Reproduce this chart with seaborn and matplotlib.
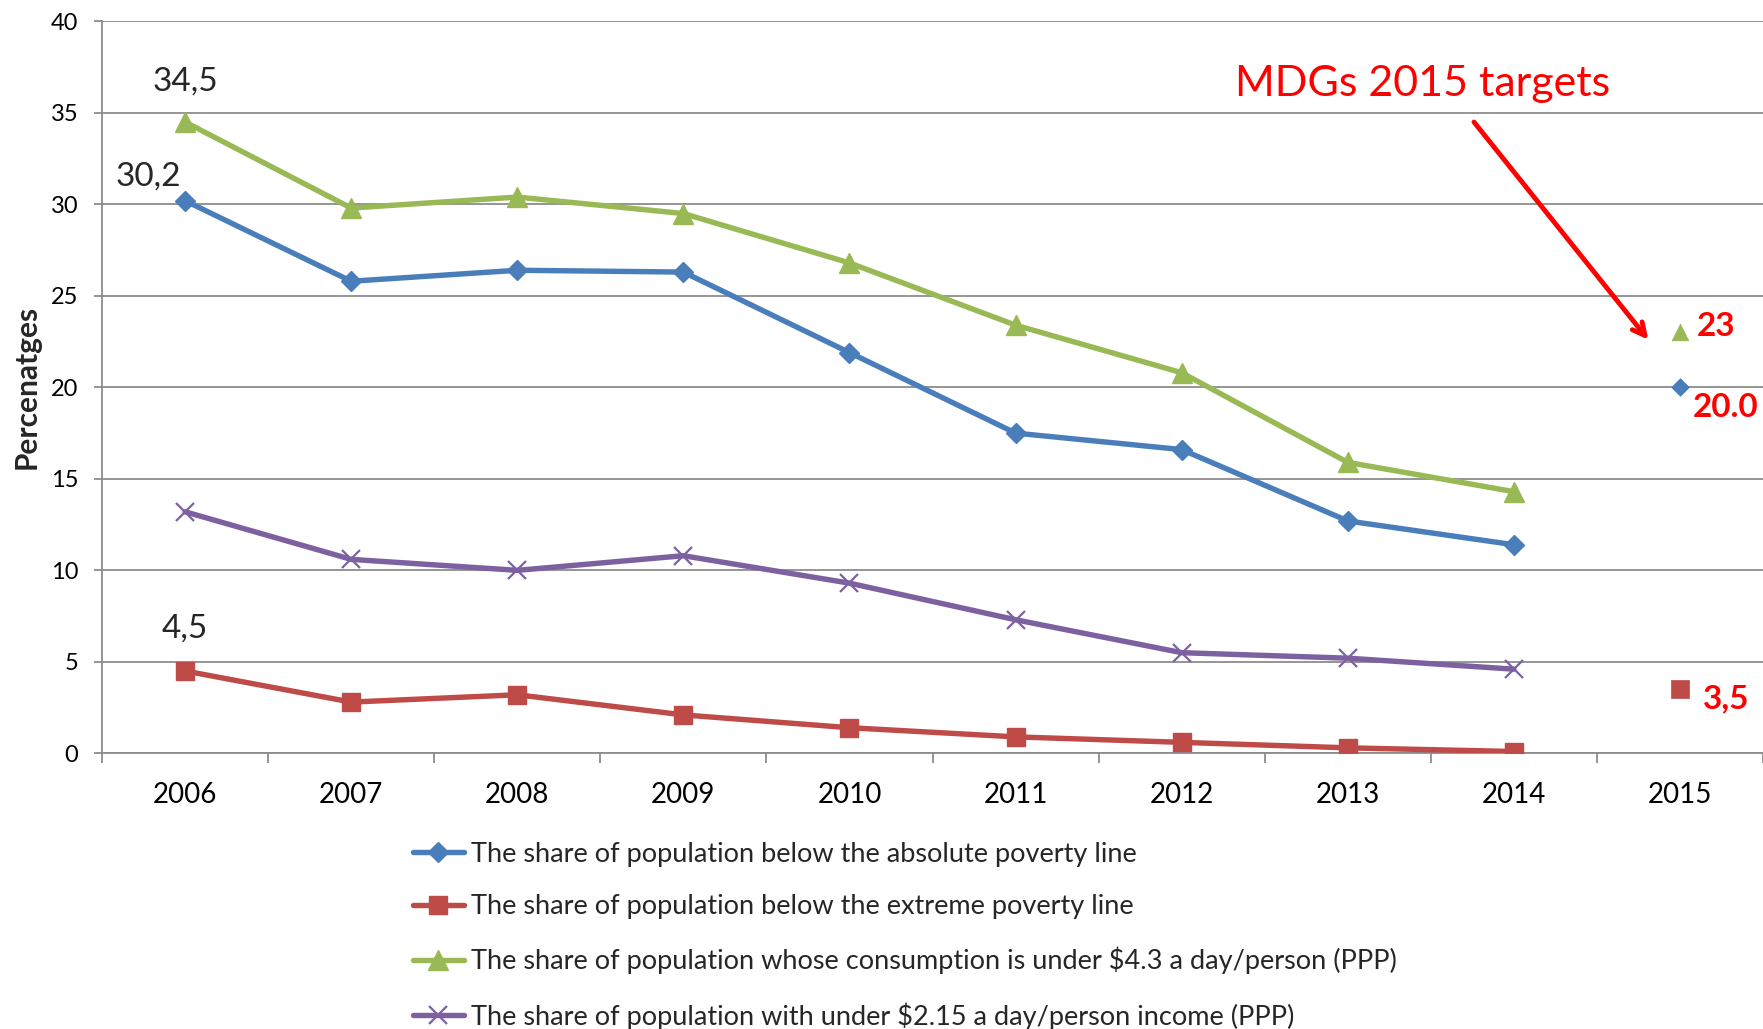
import matplotlib
matplotlib.use("Agg")
import matplotlib.pyplot as plt
import numpy as np
import pandas as pd
import seaborn as sns
from matplotlib.ticker import FixedLocator

# ---- data -------------------------------------------------------------
years = [2006, 2007, 2008, 2009, 2010, 2011, 2012, 2013, 2014]
absolute_poverty = [30.2, 25.8, 26.4, 26.3, 21.9, 17.5, 16.6, 12.7, 11.4]
extreme_poverty = [4.5, 2.8, 3.2, 2.1, 1.4, 0.9, 0.6, 0.3, 0.1]
consumption_under_4_3 = [34.5, 29.8, 30.4, 29.5, 26.8, 23.4, 20.8, 15.9, 14.3]
income_under_2_15 = [13.2, 10.6, 10.0, 10.8, 9.3, 7.3, 5.5, 5.2, 4.6]

target_year = 2015
target_absolute = 20.0
target_extreme = 3.5
target_consumption = 23

series_labels = [
    "The share of population below the absolute poverty line",
    "The share of population below the extreme poverty line",
    "The share of population whose consumption is under $4.3 a day/person (PPP)",
    "The share of population with under $2.15 a day/person income (PPP)",
]
year_ticks = [2006, 2007, 2008, 2009, 2010, 2011, 2012, 2013, 2014, 2015]
y_ticks = [0, 5, 10, 15, 20, 25, 30, 35, 40]

# ---- style ------------------------------------------------------------
sns.set_style("white")
plt.rcParams["font.family"] = ["Lato", "DejaVu Sans"]

BLUE = "#4A7EBB"
RED = "#BE4B48"
GREEN = "#98B954"
PURPLE = "#7D60A0"
GRID = "#8C8C8C"

fig = plt.figure(figsize=(17.63, 10.29), dpi=100)
ax = fig.add_axes([0.0579, 0.2679, 0.9421, 0.7113])

df = pd.DataFrame({
    "year": years,
    "absolute": absolute_poverty,
    "extreme": extreme_poverty,
    "consumption": consumption_under_4_3,
    "income": income_under_2_15,
})

specs = [
    ("absolute", series_labels[0], BLUE, "D", 10, 1.0),
    ("extreme", series_labels[1], RED, "s", 13, 1.0),
    ("consumption", series_labels[2], GREEN, "^", 15, 1.0),
    ("income", series_labels[3], PURPLE, "x", 13, 1.6),
]
for col, label, color, marker, ms, mew in specs:
    sns.lineplot(data=df, x="year", y=col, ax=ax, color=color, lw=3.9,
                 marker=marker, markersize=ms, markeredgecolor=color,
                 markeredgewidth=mew, label=label, zorder=3)

# 2015 target points
targets = pd.DataFrame({
    "year": [target_year] * 3,
    "value": [target_consumption, target_absolute, target_extreme],
    "kind": ["consumption", "absolute", "extreme"],
})
for kind, color, marker, size in [("consumption", GREEN, "^", 12),
                                  ("absolute", BLUE, "D", 9),
                                  ("extreme", RED, "s", 13)]:
    sub = targets[targets["kind"] == kind]
    sns.scatterplot(data=sub, x="year", y="value", ax=ax, color=color,
                    marker=marker, s=size ** 2, edgecolor=color,
                    linewidth=0.5, legend=False, zorder=3)

# ---- axes -------------------------------------------------------------
ax.set_xlim(2005.5, 2015.5)
ax.set_ylim(0, 40)
ax.set_xticks(year_ticks)
ax.set_xticklabels([str(y) for y in year_ticks])
ax.xaxis.set_minor_locator(FixedLocator(np.arange(2005.5, 2015.6, 1.0)))
ax.set_yticks(y_ticks)
ax.set_yticklabels([str(v) for v in y_ticks])

ax.tick_params(axis="x", which="major", length=0, pad=21, labelsize=20,
               colors="black")
ax.tick_params(axis="x", which="minor", length=7, width=1.3, color=GRID,
               direction="out", bottom=True)
ax.tick_params(axis="y", which="major", length=6, width=1.3, color=GRID,
               direction="out", left=True, pad=11, labelsize=17,
               labelcolor="black")

ax.yaxis.grid(True, color=GRID, lw=1.3)
ax.xaxis.grid(False)
ax.set_axisbelow(True)
for side in ("top", "right"):
    ax.spines[side].set_visible(False)
for side in ("left", "bottom"):
    ax.spines[side].set_color(GRID)
    ax.spines[side].set_linewidth(1.3)

ax.set_xlabel("")
ax.set_ylabel("Percenatges", fontsize=21.5, fontweight="bold", labelpad=7)

# ---- value labels -----------------------------------------------------
ax.text(years[0], 36.7, "34,5", fontsize=24, ha="center", va="center")
ax.text(years[0] - 0.22, 31.5, "30,2", fontsize=24, ha="center", va="center")
ax.text(years[0], 6.8, "4,5", fontsize=24, ha="center", va="center")

ax.text(target_year + 0.10, 23.3, f"{target_consumption}", fontsize=24,
        fontweight="bold", color="red", ha="left", va="center")
ax.text(target_year + 0.08, 18.9, f"{target_absolute:.1f}", fontsize=24,
        fontweight="bold", color="red", ha="left", va="center")
ax.text(target_year + 0.14, 3.0, f"{target_extreme}".replace(".", ","),
        fontsize=24, fontweight="bold", color="red", ha="left", va="center")

ax.text(2013.45, 36.6, "MDGs 2015 targets", fontsize=31, color="red",
        ha="center", va="center")
ax.annotate("", xy=(2014.81, 22.6), xytext=(2013.76, 34.5),
            arrowprops=dict(arrowstyle="->,head_length=0.9,head_width=0.45",
                            color="red", lw=3.5, shrinkA=0, shrinkB=0))

# ---- legend -----------------------------------------------------------
handles, labels = ax.get_legend_handles_labels()
ax.legend(handles, labels, loc="upper left", bbox_to_anchor=(0.234, 0.182),
          bbox_transform=fig.transFigure, frameon=False, fontsize=19.5,
          handlelength=1.9, handletextpad=0.25, labelspacing=1.02,
          borderpad=0, borderaxespad=0)

fig.savefig("out.png", dpi=100)
